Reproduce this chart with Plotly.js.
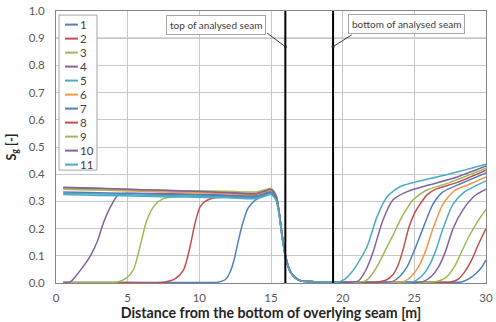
<!DOCTYPE html>
<html>
<head>
<meta charset="utf-8">
<script src="https://cdn.plot.ly/plotly-3.0.1.min.js"></script>
<style>html,body{margin:0;padding:0;background:#fff;}#chart{width:496px;height:322px;}</style>
</head>
<body>
<div id="chart"></div>
<script>
// ---- data ----
const seriesNames = ['1','2','3','4','5','6','7','8','9','10','11'];
const seriesColors = ['#4F81BD','#C0504D','#9BBB59','#8064A2','#4BACC6','#F79646','#4F81BD','#C0504D','#9BBB59','#8064A2','#4BACC6'];

const x1 = [0.5,5,10,11.3,11.8,12.1,12.4,12.7,13.0,13.4,13.9,14.4,14.8,15.1,15.35,15.55,15.8,16.05,16.35,16.7,17.1,18,19,20,22,24,26,27.5,28.3,28.8,29.3,29.7,30];
const y1 = [0.002,0.002,0.002,0.003,0.012,0.035,0.08,0.15,0.215,0.275,0.305,0.318,0.33,0.335,0.31,0.26,0.16,0.085,0.04,0.018,0.007,0.005,0.004,0.003,0.003,0.003,0.003,0.003,0.004,0.015,0.035,0.058,0.085];

const x2 = [0.5,4,7.5,8.3,8.9,9.35,9.7,10.05,10.4,10.8,11.5,13,14.3,14.8,15.1,15.35,15.55,15.8,16.05,16.35,16.7,17.1,18,19,20,23,26,27.5,28.0,28.5,29.0,29.5,30];
const y2 = [0.002,0.002,0.003,0.015,0.048,0.133,0.22,0.28,0.3,0.31,0.315,0.317,0.322,0.335,0.34,0.315,0.265,0.165,0.09,0.042,0.02,0.008,0.005,0.004,0.003,0.003,0.003,0.004,0.012,0.04,0.085,0.145,0.2];

const x3 = [0.5,3,4.3,4.9,5.4,5.86,6.33,6.9,7.5,8.5,11,14,14.6,15.0,15.35,15.55,15.8,16.05,16.35,16.7,17.1,18,19,20,23,25.5,26.5,27.2,27.8,28.3,28.8,29.4,30];
const y3 = [0.002,0.002,0.004,0.018,0.048,0.133,0.23,0.287,0.31,0.318,0.32,0.322,0.332,0.338,0.315,0.265,0.165,0.09,0.042,0.02,0.008,0.005,0.004,0.003,0.003,0.003,0.005,0.02,0.06,0.115,0.17,0.225,0.27];

const x4 = [0.5,1.0,1.6,2.4,2.9,3.3,3.8,4.35,5,8,11,14,14.6,15.0,15.35,15.55,15.8,16.05,16.35,16.7,17.1,18,19,20,23,24.8,25.6,26.2,26.7,27.2,27.7,28.4,29.2,30];
const y4 = [0.002,0.004,0.04,0.1,0.155,0.22,0.28,0.325,0.33,0.328,0.325,0.322,0.332,0.338,0.315,0.265,0.165,0.09,0.042,0.02,0.008,0.005,0.004,0.003,0.003,0.003,0.005,0.025,0.06,0.12,0.2,0.27,0.32,0.345];

const x5 = [0.5,3,6,9,12,14,14.6,15.0,15.35,15.55,15.8,16.05,16.35,16.7,17.1,18,19,20,23,24.2,25.0,25.6,26.0,26.5,27.0,27.7,28.5,29.2,30];
const y5 = [0.33,0.327,0.323,0.32,0.317,0.315,0.325,0.33,0.31,0.26,0.16,0.085,0.04,0.018,0.007,0.005,0.004,0.003,0.003,0.003,0.006,0.03,0.06,0.12,0.2,0.29,0.335,0.355,0.375];

const x6 = [0.5,3,6,9,12,14,14.6,15.0,15.35,15.55,15.8,16.05,16.35,16.7,17.1,18,19,20,23.5,24.3,24.8,25.3,25.8,26.3,27.0,27.8,28.8,30];
const y6 = [0.345,0.342,0.337,0.333,0.328,0.325,0.335,0.34,0.318,0.265,0.165,0.09,0.042,0.02,0.008,0.005,0.004,0.003,0.003,0.006,0.025,0.06,0.12,0.2,0.29,0.34,0.362,0.39];

const x7 = [0.5,3,6,9,12,14,14.6,15.0,15.35,15.55,15.8,16.05,16.35,16.7,17.1,18,19,20,22.7,23.5,24.0,24.5,25.0,25.6,26.3,27.0,28,30];
const y7 = [0.335,0.332,0.328,0.325,0.321,0.318,0.328,0.333,0.312,0.262,0.162,0.087,0.041,0.019,0.007,0.005,0.004,0.003,0.003,0.006,0.025,0.06,0.12,0.2,0.29,0.335,0.36,0.405];

const x8 = [0.5,3,6,9,12,14,14.6,15.0,15.35,15.55,15.8,16.05,16.35,16.7,17.1,18,19,20,22.3,23.0,23.5,23.9,24.2,24.6,25.0,25.4,25.9,26.5,28,30];
const y8 = [0.35,0.347,0.343,0.338,0.334,0.33,0.34,0.346,0.322,0.27,0.17,0.092,0.043,0.02,0.008,0.005,0.004,0.003,0.003,0.01,0.03,0.07,0.12,0.2,0.255,0.29,0.325,0.345,0.37,0.415];

const x9 = [0.5,3,6,9,12,14,14.6,15.0,15.35,15.55,15.8,16.05,16.35,16.7,17.1,18,19,20,21.0,21.6,22.1,22.5,23.1,23.6,24.0,24.5,24.9,25.8,27.5,30];
const y9 = [0.345,0.343,0.341,0.339,0.337,0.335,0.343,0.348,0.322,0.268,0.168,0.09,0.042,0.02,0.008,0.005,0.004,0.003,0.003,0.008,0.035,0.07,0.133,0.185,0.23,0.275,0.305,0.34,0.37,0.422];

const x10 = [0.5,3,6,9,12,14,14.6,15.0,15.35,15.55,15.8,16.05,16.35,16.7,17.1,18,19,20.5,21.1,21.6,22.1,22.8,23.5,24.5,26,28,30];
const y10 = [0.352,0.348,0.343,0.338,0.332,0.328,0.338,0.344,0.32,0.268,0.168,0.09,0.042,0.02,0.008,0.005,0.004,0.003,0.008,0.045,0.11,0.23,0.305,0.336,0.36,0.39,0.43];

const x11 = [0.5,3,6,9,12,14,14.6,15.0,15.35,15.55,15.8,16.05,16.35,16.7,17.1,18,19,19.6,20.1,20.75,21.2,21.7,22.4,23.1,24.0,25,27,30];
const y11 = [0.325,0.322,0.319,0.316,0.313,0.31,0.32,0.325,0.305,0.255,0.158,0.084,0.04,0.018,0.007,0.005,0.004,0.003,0.012,0.048,0.085,0.133,0.244,0.317,0.354,0.37,0.395,0.437];

const seriesX = [x1,x2,x3,x4,x5,x6,x7,x8,x9,x10,x11];
const seriesY = [y1,y2,y3,y4,y5,y6,y7,y8,y9,y10,y11];

const seamTop = 16.0;
const seamBottom = 19.33;
const xTicks = [0,5,10,15,20,25,30];
const yTicks = [0,0.1,0.2,0.3,0.4,0.5,0.6,0.7,0.8,0.9,1.0];

// ---- traces ----
const FONT = 'Lato, "Liberation Sans", sans-serif';
const traces = seriesNames.map((n,i) => ({
  type:'scatter', mode:'lines', name:n,
  x: seriesX[i], y: seriesY[i],
  line:{color: seriesColors[i], width:1.5, shape:'spline', smoothing:0.7},
  showlegend:false, hoverinfo:'skip'
}));

// manual compact legend
const shapes = [];
const annotations = [];
const lgX0 = 0.007, lgX1 = 0.0953, lgY0 = 0.415, lgY1 = 0.985;
shapes.push({type:'rect', xref:'paper', yref:'paper', x0:lgX0, x1:lgX1, y0:lgY0, y1:lgY1,
  line:{color:'#a6a6a6', width:1}, fillcolor:'#ffffff', layer:'above'});
seriesNames.forEach((n,i) => {
  const yy = 0.95 - i * (14/272);
  shapes.push({type:'line', xref:'paper', yref:'paper', x0:0.021, x1:0.051, y0:yy, y1:yy,
    line:{color: seriesColors[i], width:2}, layer:'above'});
  annotations.push({xref:'paper', yref:'paper', x:0.052, y:yy, xanchor:'left', yanchor:'middle',
    text:n, showarrow:false, font:{family:FONT, size:11.5, color:'#404040'}});
});

// seam lines
[seamTop, seamBottom].forEach(v => shapes.push({type:'line', xref:'x', yref:'y', x0:v, x1:v, y0:0, y1:1,
  line:{color:'#000000', width:2}, layer:'above'}));
// darker 0.9 line
shapes.push({type:'line', xref:'paper', yref:'y', x0:0, x1:1, y0:0.9, y1:0.9, line:{color:'#7f7f7f', width:1}, layer:'below'});

// callout leader lines and dots
const leaders = [
  {x0:14.72, y0:0.919, x1:seamTop, y1:0.869},
  {x0:20.63, y0:0.912, x1:seamBottom, y1:0.869}
];
leaders.forEach(l => {
  shapes.push({type:'line', xref:'x', yref:'y', x0:l.x0, y0:l.y0, x1:l.x1, y1:l.y1, line:{color:'#404040', width:1}, layer:'above'});
  shapes.push({type:'circle', xref:'x', yref:'y', xsizemode:'pixel', ysizemode:'pixel', xanchor:l.x1, yanchor:l.y1,
    x0:-1.5, x1:1.5, y0:-1.5, y1:1.5, fillcolor:'#202020', line:{width:0}, layer:'above'});
});

// seam labels
annotations.push({x:11.17, y:0.95, xref:'x', yref:'y', text:'top of analysed seam', showarrow:false,
  font:{family:FONT, size:10, color:'#404040'}, bgcolor:'#ffffff', bordercolor:'#a6a6a6', borderwidth:1, borderpad:3});
annotations.push({x:24.42, y:0.952, xref:'x', yref:'y', text:'bottom of analysed seam', showarrow:false,
  font:{family:FONT, size:10, color:'#404040'}, bgcolor:'#ffffff', bordercolor:'#a6a6a6', borderwidth:1, borderpad:3});

const layout = {
  width:496, height:322,
  margin:{l:56, r:10, t:11, b:39, pad:0},
  paper_bgcolor:'#ffffff', plot_bgcolor:'#ffffff',
  font:{family:FONT, size:11, color:'#595959'},
  showlegend:false,
  xaxis:{range:[0,30], tickvals:xTicks, ticktext:xTicks.map(String), showgrid:true, gridcolor:'#c8c8c8', gridwidth:1,
    zeroline:false, showline:true, linecolor:'#868686', linewidth:1, mirror:true, ticks:'outside', ticklen:4, tickcolor:'rgba(0,0,0,0)',
    tickfont:{family:FONT, size:11.5, color:'#595959'},
    title:{text:'<b>Distance from the bottom of overlying seam [m]</b>', font:{family:FONT, size:14.2, color:'#262626'}, standoff:1}},
  yaxis:{range:[0,1], tickvals:yTicks, ticktext:yTicks.map(v=>v.toFixed(1)), showgrid:true, gridcolor:'#c8c8c8', gridwidth:1,
    zeroline:false, showline:true, linecolor:'#868686', linewidth:1, mirror:true, ticks:'outside', ticklen:8, tickcolor:'rgba(0,0,0,0)',
    tickfont:{family:FONT, size:11.5, color:'#595959'},
    title:{text:'<b>S<sub>g</sub> [-]</b>', font:{family:FONT, size:12.5, color:'#262626'}, standoff:9}},
  shapes:shapes,
  annotations:annotations
};

Plotly.newPlot('chart', traces, layout, {displayModeBar:false, staticPlot:true});
</script>
</body>
</html>
